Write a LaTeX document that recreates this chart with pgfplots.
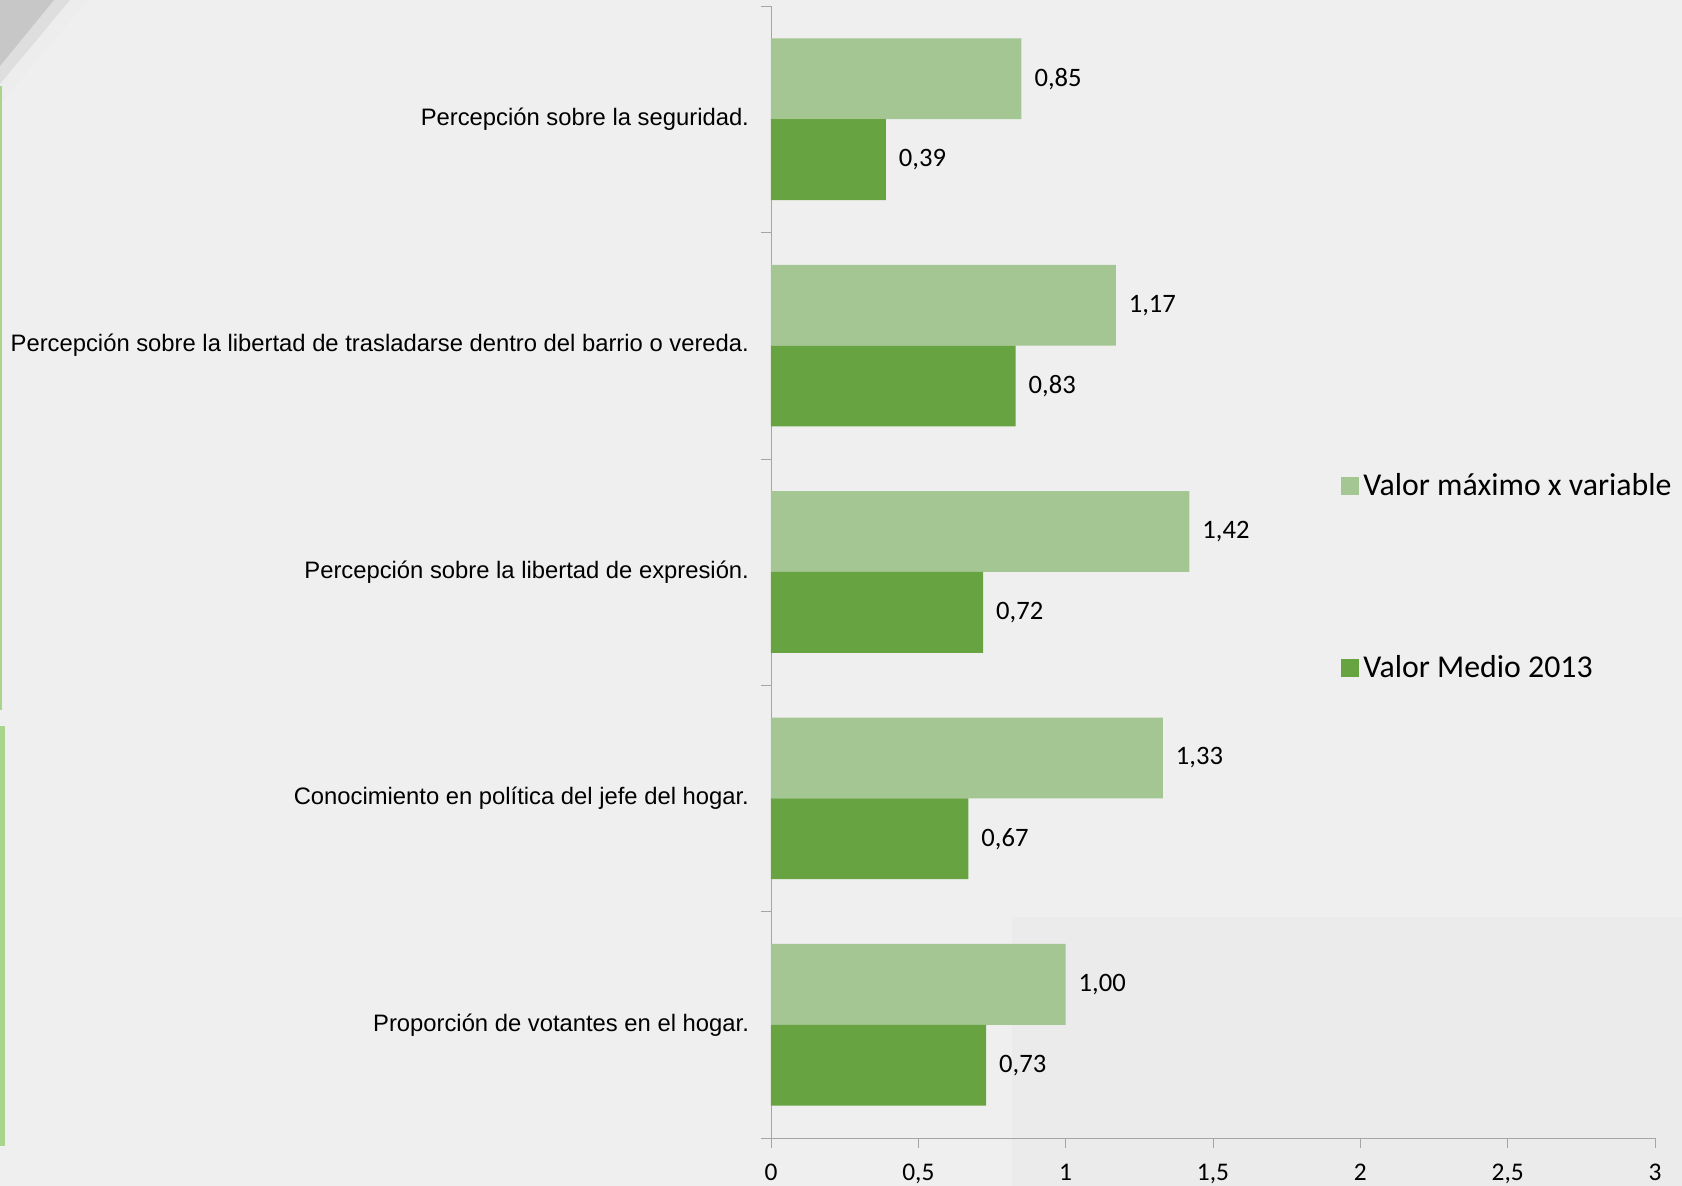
\documentclass[border=0pt]{standalone}
\usepackage{fontspec}
\setmainfont{Carlito}
\newfontfamily\arial{Liberation Sans}
\usepackage{pgfplots}
\pgfplotsset{compat=1.18}
\definecolor{fondo}{RGB}{239,239,239}
\definecolor{fondob}{RGB}{235,235,235}
\definecolor{verdeclaro}{RGB}{163,198,147}
\definecolor{verde}{RGB}{104,163,66}
\definecolor{franja}{RGB}{168,212,140}
\definecolor{eje}{RGB}{165,165,165}
\begin{document}
\begin{tikzpicture}
\useasboundingbox (0,0) rectangle (841pt,593pt);
% fondo y adornos de la diapositiva
\fill[fondo] (0,0) rectangle (841pt,593pt);
\fill[fondob] (506pt,0) rectangle (841pt,134.5pt);
\fill[black!7] (0,593pt) -- (44pt,593pt) -- (0,541pt) -- cycle;
\fill[black!13] (0,593pt) -- (35pt,593pt) -- (0,551pt) -- cycle;
\fill[black!22] (0,593pt) -- (27pt,593pt) -- (0,560pt) -- cycle;
\fill[franja] (0,238pt) rectangle (0.8pt,550pt);
\fill[franja] (0,20pt) rectangle (2.5pt,230pt);
\begin{axis}[
    at={(385.5pt,24pt)}, anchor=south west,
    scale only axis, width=442pt, height=566pt,
    xbar, bar width=0.357,
    xmin=0, xmax=3, ymin=-0.5, ymax=4.5,
    axis x line=bottom, axis y line=left,
    axis line style={-, draw=eje},
    xtick={0,0.5,...,3},
    /pgf/number format/use comma,
    /pgf/number format/assume math mode=true,
    xticklabel style={font=\fontsize{12.7}{15}\selectfont, yshift=-4.5pt},
    tick align=outside,
    major tick length=5pt,
    xtick style={draw=eje},
    ytick={0,1,2,3,4},
    ytick style={draw=none},
    yticklabels={Proporción de votantes en el hogar.,
                 Conocimiento en política del jefe del hogar.,
                 Percepción sobre la libertad de expresión.,
                 Percepción sobre la libertad de trasladarse dentro del barrio o vereda.,
                 Percepción sobre la seguridad.},
    yticklabel style={font=\arial\fontsize{11.9}{14}\selectfont, xshift=-2.5pt},
    extra y ticks={-0.5,0.5,1.5,2.5,3.5,4.5},
    extra y tick labels={},
    extra y tick style={ytick style={draw=eje}},
    nodes near coords,
    nodes near coords style={font=\fontsize{13.3}{16}\selectfont, anchor=west, xshift=3pt,
        /pgf/number format/fixed, /pgf/number format/fixed zerofill,
        /pgf/number format/precision=2},
    legend style={at={(0.6448,0.4955)}, anchor=west, draw=none, fill=none,
        font=\fontsize{15.9}{19}\selectfont, row sep=74.5pt, inner sep=0pt,
        cells={anchor=west}},
    legend image code/.code={\fill[#1] (-2.5pt,-4.5pt) rectangle (6.5pt,4.5pt);},
]
\addplot[fill=verdeclaro, draw=none, bar shift=0.1785] coordinates {
    (1.00,0) (1.33,1) (1.42,2) (1.17,3) (0.85,4)};
\addplot[fill=verde, draw=none, bar shift=-0.1785] coordinates {
    (0.73,0) (0.67,1) (0.72,2) (0.83,3) (0.39,4)};
\legend{Valor máximo x variable, Valor Medio 2013}
\end{axis}
\end{tikzpicture}
\end{document}
